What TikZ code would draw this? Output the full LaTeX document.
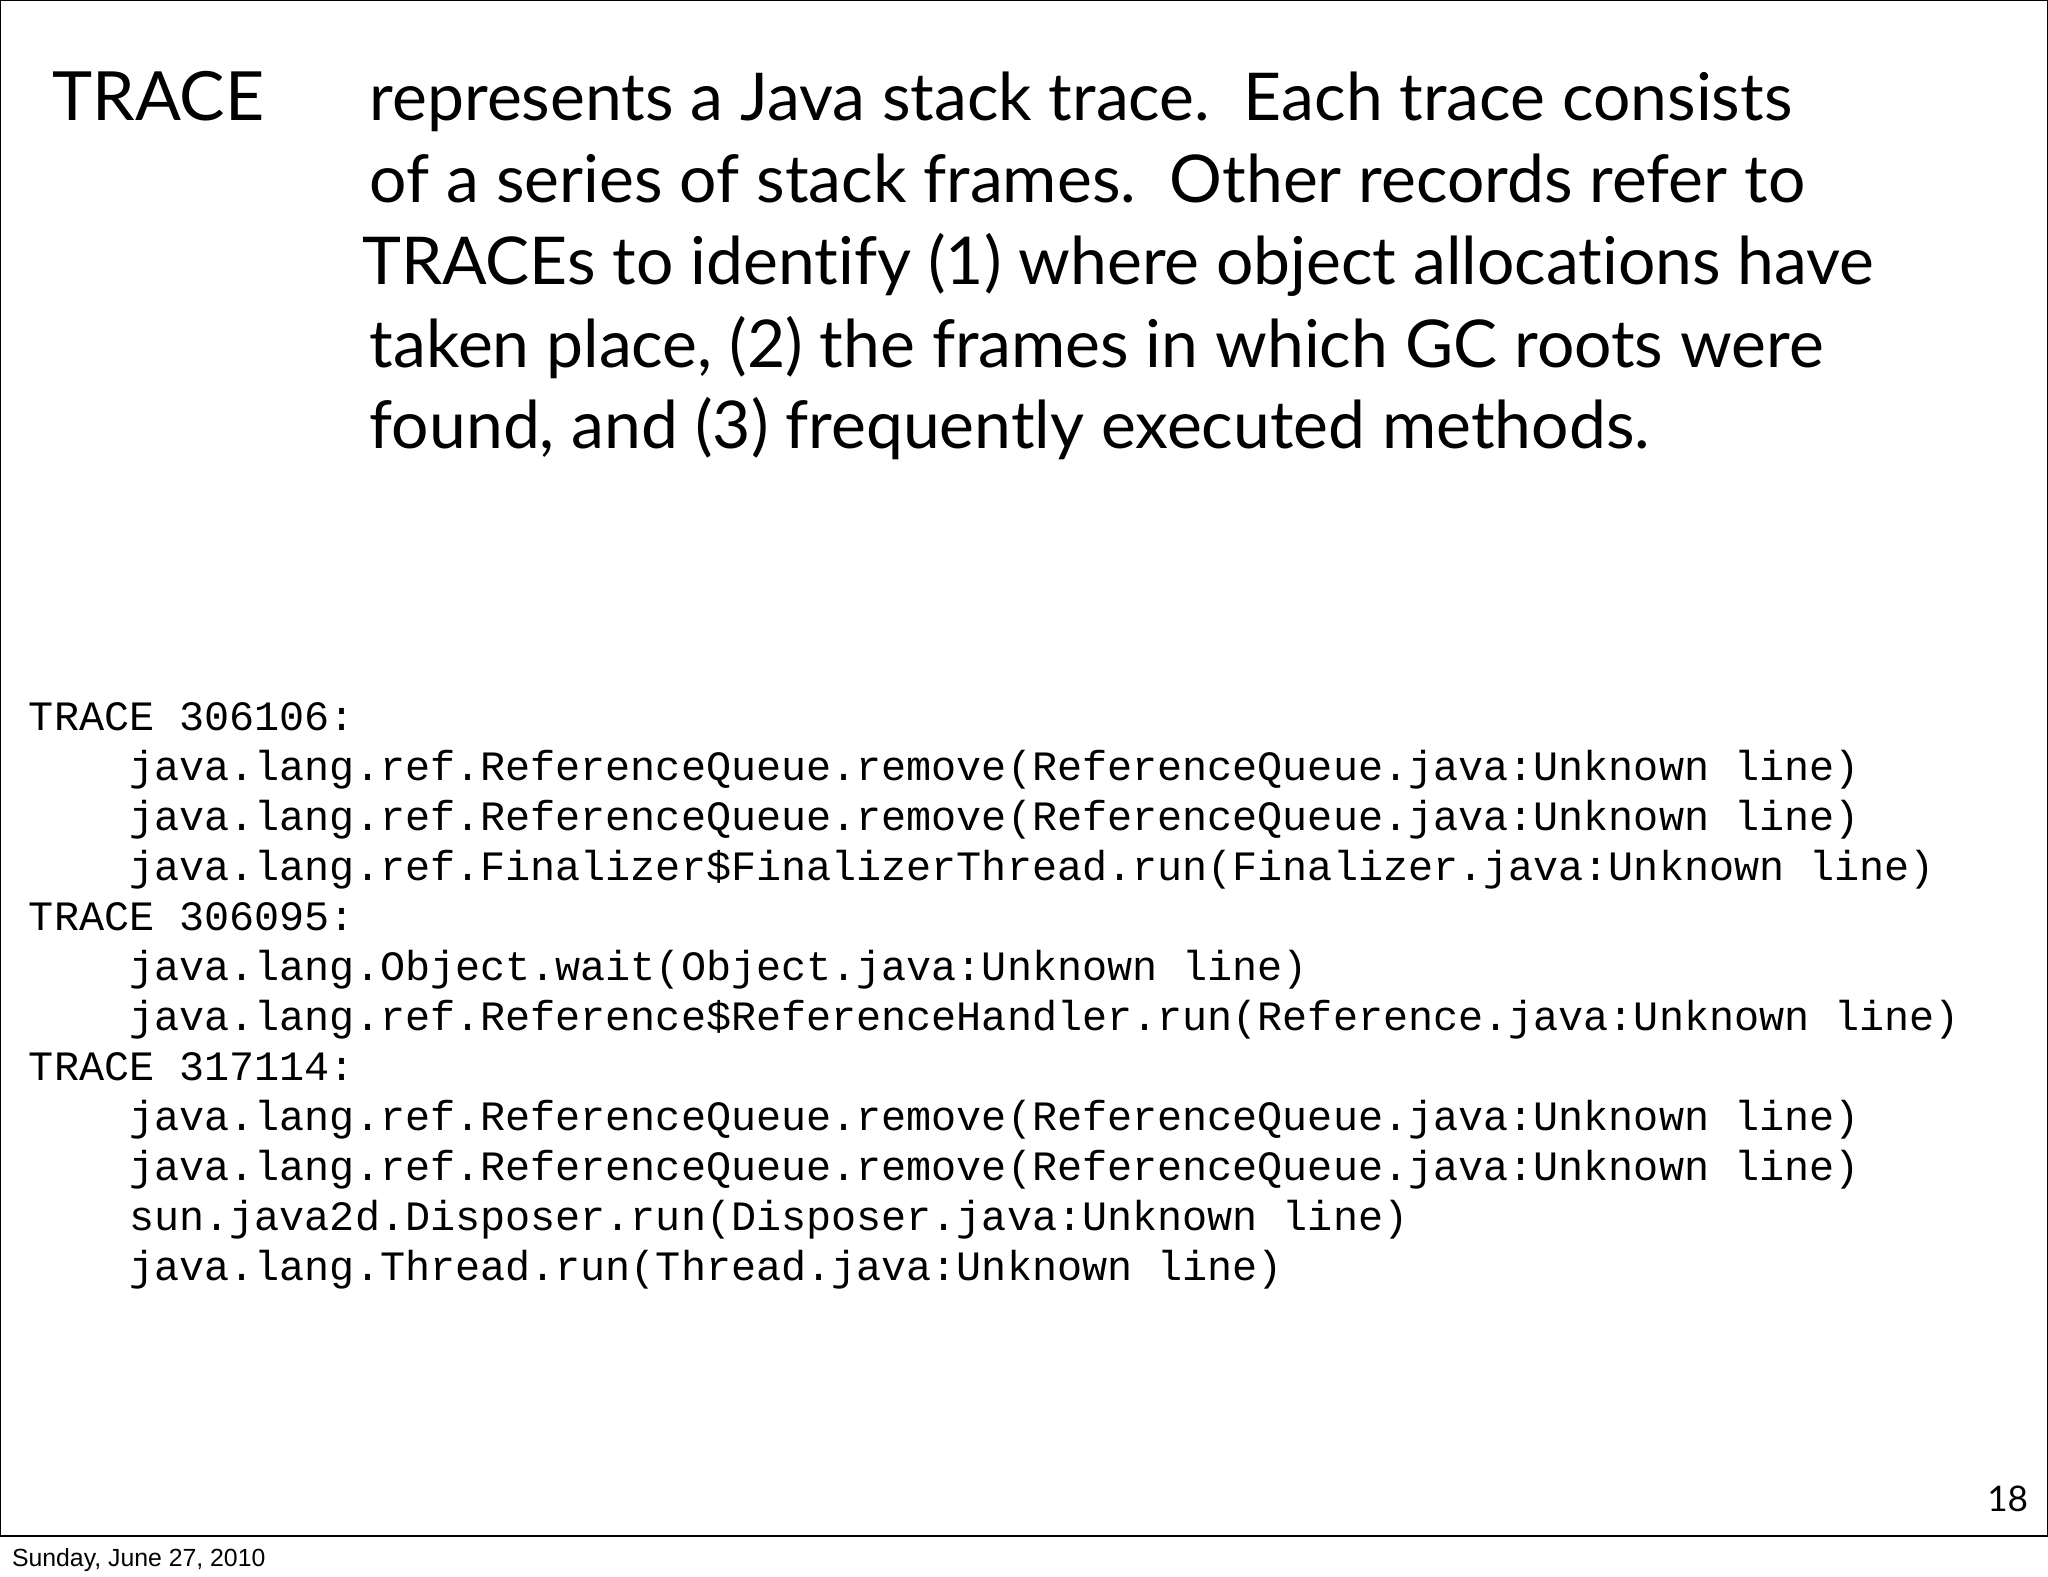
\documentclass[tikz,border=0pt]{standalone}
\usepackage{fontspec}
\setmainfont[RawFeature={-liga}]{Lato}
\setmonofont{Liberation Mono}
\newfontfamily\footfont{Liberation Sans}
\begin{document}
\begin{tikzpicture}[x=1pt,y=-1pt,
  ttl/.style={anchor=base west,inner sep=0,font=\fontsize{50.5}{60}\selectfont},
  code/.style={anchor=base west,inner sep=0,font=\ttfamily\fontsize{32}{38}\selectfont}]
\useasboundingbox (0,0) rectangle (1568,1207);
\fill[white] (0,0) rectangle (1568,1207);
\draw[line width=1pt] (0.5,0.5) rectangle (1567.5,1176);
\node[ttl,font=\fontsize{52}{60}\selectfont] (t0) at (40,92) {TRACE};
\node[ttl] (t1) at (283,92) {represents a Java stack trace.\ \ Each trace consists};
\node[ttl] (t2) at (283,155) {of a series of stack frames.\ \ Other records refer to};
\node[ttl] (t3) at (277,218) {TRACEs to identify (1) where object allocations have};
\node[ttl] (t4) at (283,281) {taken place, (2) the frames in which GC roots were};
\node[ttl] (t5) at (283,343) {found, and (3) frequently executed methods.};
\foreach \i/\t in {0/{TRACE 306106:},
1/{\ \ \ \ java.lang.ref.ReferenceQueue.remove(ReferenceQueue.java:Unknown line)},
2/{\ \ \ \ java.lang.ref.ReferenceQueue.remove(ReferenceQueue.java:Unknown line)},
3/{\ \ \ \ java.lang.ref.Finalizer\$FinalizerThread.run(Finalizer.java:Unknown line)},
4/{TRACE 306095:},
5/{\ \ \ \ java.lang.Object.wait(Object.java:Unknown line)},
6/{\ \ \ \ java.lang.ref.Reference\$ReferenceHandler.run(Reference.java:Unknown line)},
7/{TRACE 317114:},
8/{\ \ \ \ java.lang.ref.ReferenceQueue.remove(ReferenceQueue.java:Unknown line)},
9/{\ \ \ \ java.lang.ref.ReferenceQueue.remove(ReferenceQueue.java:Unknown line)},
10/{\ \ \ \ sun.java2d.Disposer.run(Disposer.java:Unknown line)},
11/{\ \ \ \ java.lang.Thread.run(Thread.java:Unknown line)}}
  \node[code] (c\i) at (22,{559+38.3*\i}) {\t};
\node[anchor=base east,inner sep=0,font=\fontsize{27}{30}\selectfont] (pg) at (1553,1157) {18};
\node[anchor=base west,inner sep=0,font=\footfont\fontsize{19}{22}\selectfont] (ft) at (9,1199) {Sunday, June 27, 2010};
\end{tikzpicture}
\end{document}
